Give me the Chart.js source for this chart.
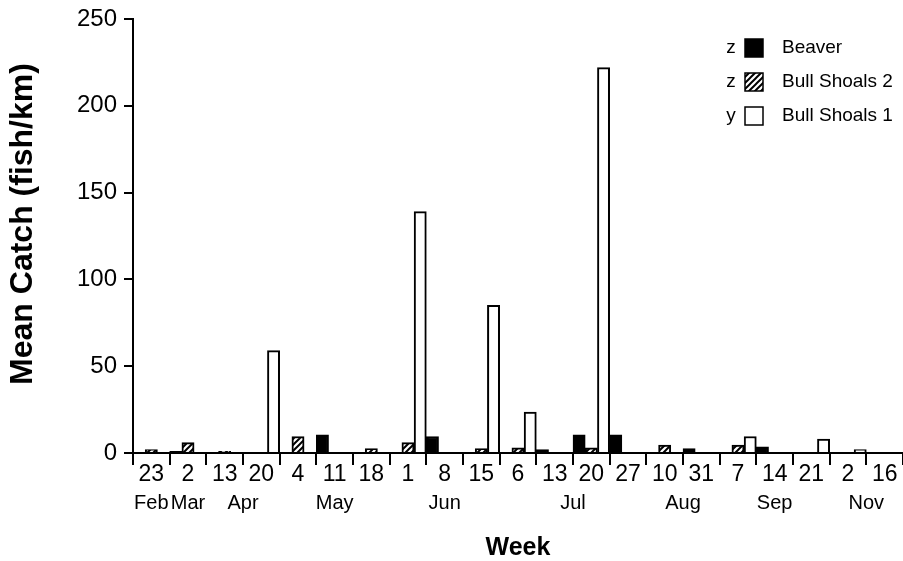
<!DOCTYPE html>
<html>
<head>
<meta charset="utf-8">
<script src="https://cdn.jsdelivr.net/npm/chart.js@4"></script>
<style>
  html, body { margin: 0; padding: 0; background: #fff; overflow: hidden; }
</style>
</head>
<body>
<canvas id="catchChart" width="903" height="561"></canvas>
<script>
'use strict';

//--------> Data <--------
let weekDays = ['23', '2', '13', '20', '4', '11', '18', '1', '8', '15', '6',
  '13', '20', '27', '10', '31', '7', '14', '21', '2', '16'];
let weekMonths = ['Feb', 'Mar', 'Apr', 'Apr', 'May', 'May', 'May', 'Jun', 'Jun', 'Jun', 'Jul',
  'Jul', 'Jul', 'Jul', 'Aug', 'Aug', 'Sep', 'Sep', 'Sep', 'Nov', 'Nov'];
let beaver = [0, 1, 0, 0, 0, 10.5, 0, 0, 9.5, 0, 0,
  2, 10.5, 10.5, 0, 2.5, 0, 3.5, 0, 0, 0.5];
let bullShoals2 = [2, 6, 1, 0, 9.5, 0, 2.5, 6, 0, 2.5, 3,
  0, 3, 0, 4.5, 0, 4.5, 0, 0, 0, 0];
let bullShoals1 = [0, 0, 0, 59, 0, 0, 0, 139, 0, 85, 23.5,
  0, 222, 0, 0, 0, 9.5, 0, 8, 2, 0];
let seriesNames = ['Beaver', 'Bull Shoals 2', 'Bull Shoals 1'];
let legendMarks = ['z', 'z', 'y'];
let yMax = 250;
let yStep = 50;
let yTitle = 'Mean Catch (fish/km)';

const fontFamily = '"Liberation Sans", Arial, Helvetica, sans-serif';

//--------> Hatch fill for Bull Shoals 2 <--------
function makeHatch () {
  let c = document.createElement('canvas');
  c.width = 6; c.height = 6;
  let g = c.getContext('2d');
  g.fillStyle = '#fff';
  g.fillRect(0, 0, 6, 6);
  g.strokeStyle = '#000';
  g.lineWidth = 2;
  g.beginPath();
  g.moveTo(0, 6); g.lineTo(6, 0);
  g.moveTo(-3, 3); g.lineTo(3, -3);
  g.moveTo(3, 9); g.lineTo(9, 3);
  g.stroke();
  return g.createPattern(c, 'repeat');
}
let hatch = makeHatch();

//--------> Month row under the day numbers <--------
const monthLabels = {
  id: 'monthLabels',
  afterDraw (chart) {
    let ctx = chart.ctx;
    let xs = chart.scales.x;
    ctx.save();
    ctx.font = '20px ' + fontFamily;
    ctx.fillStyle = '#000';
    ctx.textAlign = 'center';
    ctx.textBaseline = 'middle';
    let i = 0;
    while (i < weekMonths.length) {
      let j = i;
      while (j + 1 < weekMonths.length && weekMonths[j + 1] === weekMonths[i]) j++;
      let x = (xs.getPixelForValue(i) + xs.getPixelForValue(j)) / 2;
      ctx.fillText(weekMonths[i], x, 503);
      i = j + 1;
    }
    ctx.restore();
  }
};

//--------> Y title (sits a bit above the axis middle in the original) <--------
const yTitleLabel = {
  id: 'yTitleLabel',
  afterDraw (chart) {
    let ctx = chart.ctx;
    ctx.save();
    ctx.translate(23, 224);
    ctx.rotate(-Math.PI / 2);
    ctx.font = 'bold 32px ' + fontFamily;
    ctx.fillStyle = '#000';
    ctx.textAlign = 'center';
    ctx.textBaseline = 'middle';
    ctx.fillText(yTitle, 0, 0);
    ctx.restore();
  }
};

//--------> Legend inside the plot (with z / y marks) <--------
const insideLegend = {
  id: 'insideLegend',
  afterDraw (chart) {
    let ctx = chart.ctx;
    ctx.save();
    ctx.font = '19px ' + fontFamily;
    ctx.textBaseline = 'middle';
    for (let i = 0; i < chart.data.datasets.length; i++) {
      let ds = chart.data.datasets[i];
      let y = 48 + i * 34;
      ctx.textAlign = 'center';
      ctx.fillStyle = '#000';
      ctx.fillText(legendMarks[i], 731, y);
      ctx.fillStyle = ds.backgroundColor;
      ctx.fillRect(745, y - 9, 18, 18);
      ctx.strokeStyle = '#000';
      ctx.lineWidth = 1.5;
      ctx.strokeRect(745, y - 9, 18, 18);
      ctx.textAlign = 'left';
      ctx.fillStyle = '#000';
      ctx.fillText(ds.label, 782, y);
    }
    ctx.restore();
  }
};

//--------> Chart <--------
let ctx = document.getElementById('catchChart').getContext('2d');
let catchChart = new Chart(ctx, {
  type: 'bar',
  data: {
    labels: weekDays,
    datasets: [{
      label: seriesNames[0],
      data: beaver,
      backgroundColor: '#000',
      borderColor: '#000',
      borderWidth: 2
    }, {
      label: seriesNames[1],
      data: bullShoals2,
      backgroundColor: hatch,
      borderColor: '#000',
      borderWidth: 2
    }, {
      label: seriesNames[2],
      data: bullShoals1,
      backgroundColor: '#fff',
      borderColor: '#000',
      borderWidth: 2
    }]
  },
  options: {
    responsive: false,
    animation: false,
    layout: { padding: { top: 17, right: 0, bottom: 0, left: 0 } },
    datasets: { bar: { barPercentage: 1, categoryPercentage: 1 } },
    plugins: {
      legend: { display: false },
      tooltip: { enabled: false }
    },
    scales: {
      x: {
        afterFit (scale) { scale.height = 108; },
        grid: { offset: true, drawOnChartArea: false, tickLength: 12, color: '#000', lineWidth: 2 },
        border: { color: '#000', width: 2 },
        ticks: { color: '#000', font: { family: fontFamily, size: 23 }, padding: -4, maxRotation: 0, autoSkip: false },
        title: { display: true, text: 'Week', color: '#000', font: { family: fontFamily, size: 25, weight: 'bold', lineHeight: 1 }, padding: { top: 0, bottom: 0 } }
      },
      y: {
        min: 0,
        max: yMax,
        afterFit (scale) { scale.width = 133; },
        grid: { drawOnChartArea: false, tickLength: 9, color: '#000', lineWidth: 2 },
        border: { color: '#000', width: 2 },
        ticks: { stepSize: yStep, color: '#000', font: { family: fontFamily, size: 24, lineHeight: 1 }, padding: 7 }
      }
    }
  },
  plugins: [monthLabels, yTitleLabel, insideLegend]
});
</script>
</body>
</html>
